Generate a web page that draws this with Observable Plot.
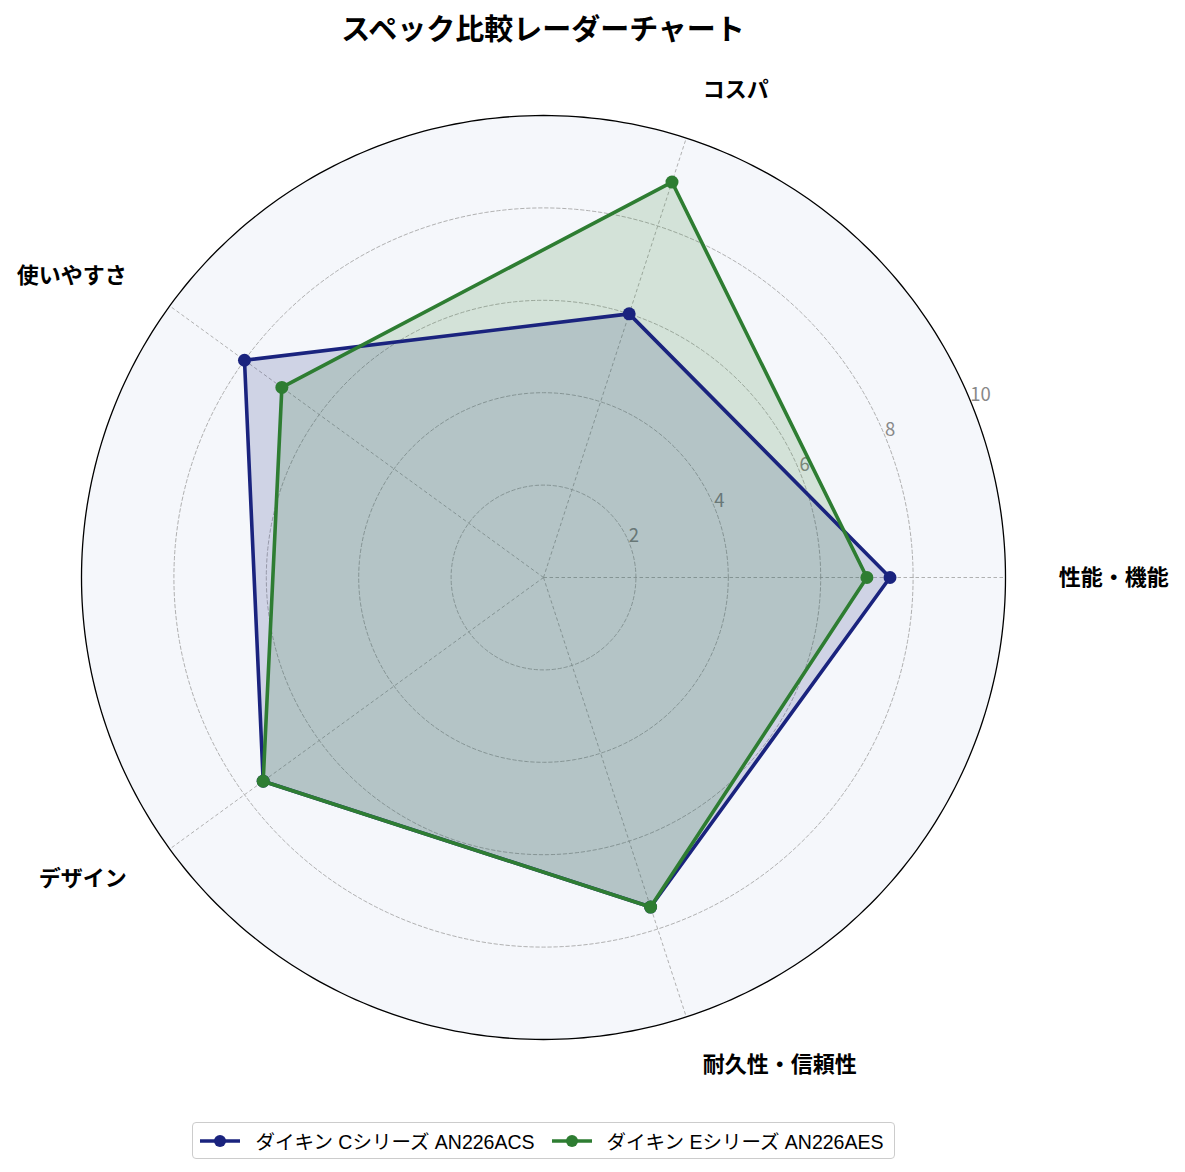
<!DOCTYPE html>
<html>
<head>
<meta charset="utf-8">
<script src="https://cdn.jsdelivr.net/npm/d3@7"></script>
<script src="https://cdn.jsdelivr.net/npm/@observablehq/plot@0.6"></script>
<style>
  body { margin: 0; background: #fff; font-family: "Noto Sans CJK JP", "Noto Sans", sans-serif; }
  #wrap { width: 1185px; }
  #title { width: 1086px; height: 55px; line-height: 55px; text-align: center; font-weight: bold; font-size: 29px; color: #000; }
  #chart svg { display: block; overflow: visible; }
  #legendRow { width: 1087px; display: flex; justify-content: center; margin-top: 7px; }
  #legend { display: flex; align-items: center; gap: 17px; border: 1.5px solid #ccc; border-radius: 4px; padding: 3px 10px 3px 7px; font-family: "Liberation Sans", "Noto Sans CJK JP", sans-serif; font-size: 19.5px; white-space: nowrap; background: #fff; }
  .item { display: flex; align-items: center; gap: 15px; }
</style>
</head>
<body>
<div id="wrap">
  <div id="title"></div>
  <div id="chart"></div>
  <div id="legendRow"><div id="legend"></div></div>
</div>
<script>
// ---- data ----
const titleText = "スペック比較レーダーチャート";
const categories = ["性能・機能", "コスパ", "使いやすさ", "デザイン", "耐久性・信頼性"];
const seriesNames = ["ダイキン Cシリーズ AN226ACS", "ダイキン Eシリーズ AN226AES"];
const valuesC = [7.5, 6, 8, 7.5, 7.5];
const valuesE = [7, 9, 7, 7.5, 7.5];
const seriesColors = ["#1a237e", "#2e7d32"];
const rTicks = [2, 4, 6, 8, 10];
const rMax = 10;

// ---- geometry helpers ----
const n = categories.length;
const ang = i => (2 * Math.PI * i) / n;           // start east, counterclockwise
const px = (r, a) => r * Math.cos(a);
const py = (r, a) => r * Math.sin(a);

const seriesValues = [valuesC, valuesE];
const polys = seriesValues.map((vals, s) => {
  const pts = vals.map((v, i) => ({ series: seriesNames[s], i, v, a: ang(i) }));
  return { name: seriesNames[s], color: seriesColors[s], pts, closed: [...pts, pts[0]] };
});

const circleAngles = d3.range(0, 361, 1).map(d => (d * Math.PI) / 180);
const gridPts = rTicks.filter(r => r < rMax).flatMap(r => circleAngles.map(a => ({ r, a })));
const outerPts = circleAngles.map(a => ({ r: rMax, a }));
const spokes = categories.map((c, i) => ({ c, a: ang(i) }));
const labelAngle = (22.5 * Math.PI) / 180;
const catLabels = categories.map((c, i) => ({ c, a: ang(i) }));

const marks = [
  // background disk
  Plot.line(outerPts, { x: d => px(d.r, d.a), y: d => py(d.r, d.a), fill: "#f5f7fb", stroke: "none" }),
  // grid circles
  Plot.line(gridPts, { x: d => px(d.r, d.a), y: d => py(d.r, d.a), z: "r", stroke: "#a8a8a8", strokeWidth: 0.9, strokeDasharray: "3.5,2.5" }),
  // spokes
  Plot.link(spokes, { x1: 0, y1: 0, x2: d => px(rMax, d.a), y2: d => py(rMax, d.a), stroke: "#a8a8a8", strokeWidth: 0.9, strokeDasharray: "3.5,2.5" }),
  // radial tick labels
  Plot.text(rTicks, { x: r => px(r, labelAngle), y: r => py(r, labelAngle), text: r => String(r), textAnchor: "start", lineAnchor: "bottom", fill: "#888", fontSize: 18.5 }),
];

for (const p of polys) {
  marks.push(Plot.line(p.closed, { x: d => px(d.v, d.a), y: d => py(d.v, d.a), fill: p.color, fillOpacity: 0.17, stroke: "none" }));
}
for (const p of polys) {
  marks.push(Plot.line(p.closed, { x: d => px(d.v, d.a), y: d => py(d.v, d.a), stroke: p.color, strokeWidth: 3.6, strokeLinejoin: "round" }));
  marks.push(Plot.dot(p.pts, { x: d => px(d.v, d.a), y: d => py(d.v, d.a), r: 6.5, fill: p.color, stroke: "none" }));
}

marks.push(
  // outer circle
  Plot.line(outerPts, { x: d => px(d.r, d.a), y: d => py(d.r, d.a), stroke: "#000", strokeWidth: 1.3 }),
  // category labels
  Plot.text(catLabels.filter(d => Math.cos(d.a) > 0), { x: d => px(11.15, d.a), y: d => py(11.1, d.a), text: "c", textAnchor: "start", lineAnchor: "middle", fontSize: 22, fontWeight: "bold", fill: "#000" }),
  Plot.text(catLabels.filter(d => Math.cos(d.a) < 0), { x: d => px(11.15, d.a), y: d => py(11.1, d.a), text: "c", textAnchor: "end", lineAnchor: "middle", fontSize: 22, fontWeight: "bold", fill: "#000" })
);

const chart = Plot.plot({
  width: 1185,
  height: 1060,
  marginLeft: 34.8,
  marginRight: 133.8,
  marginTop: 13.8,
  marginBottom: 29.8,
  x: { domain: [-11, 11], axis: null },
  y: { domain: [-11, 11], axis: null },
  style: { fontFamily: "'Noto Sans CJK JP', 'Noto Sans', sans-serif", background: "transparent", overflow: "visible" },
  marks
});

document.getElementById("title").textContent = titleText;
document.getElementById("chart").appendChild(chart);

// legend
const legend = document.getElementById("legend");
polys.forEach(p => {
  const item = document.createElement("div");
  item.className = "item";
  item.innerHTML = `<svg width="40" height="14"><line x1="0" y1="7" x2="40" y2="7" stroke="${p.color}" stroke-width="3.6"/><circle cx="20" cy="7" r="6" fill="${p.color}"/></svg><span>${p.name}</span>`;
  legend.appendChild(item);
});
</script>
</body>
</html>
